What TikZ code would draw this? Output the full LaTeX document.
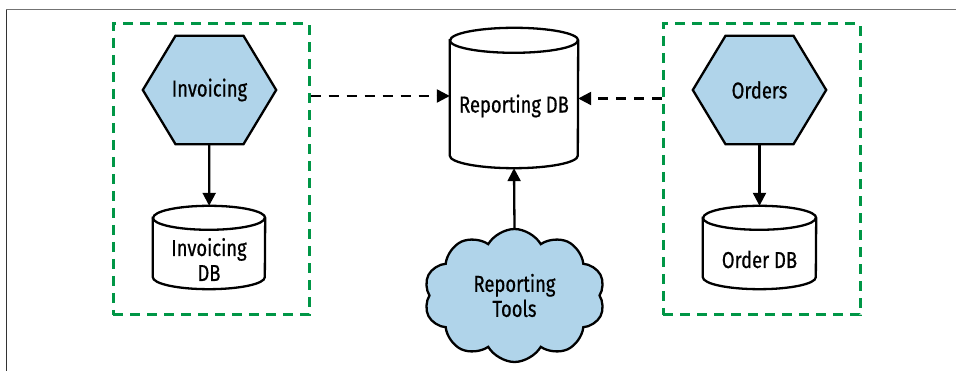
\documentclass[tikz,border=0pt]{standalone}
\usepackage{fontspec}
\setmainfont{Fira Sans}[FakeStretch=0.8, FakeBold=0.6]
\usetikzlibrary{shapes.symbols,arrows.meta,calc,backgrounds}
\definecolor{hexblue}{RGB}{176,212,234}
\definecolor{boxgreen}{RGB}{0,150,70}
\newcommand\hexpath[1]{\draw[line width=2.3pt, fill=hexblue, line join=miter]
  (#1.west) -- ($(#1.north)+(-34,0)$) -- ($(#1.north)+(34,0)$) -- (#1.east)
  -- ($(#1.south)+(34,0)$) -- ($(#1.south)+(-34,0)$) -- cycle;}
\newcommand\cylpath[3]{%
  \draw[line width=2.3pt, fill=white]
    ($(#1.north west)+(0,-#3)$) -- ($(#1.south west)+(0,#3)$)
    arc[start angle=180, end angle=360, x radius=#2, y radius=#3]
    -- ($(#1.north east)+(0,-#3)$)
    arc[start angle=0, end angle=180, x radius=#2, y radius=#3] -- cycle;
  \draw[line width=2.3pt] ($(#1.north west)+(0,-#3)$)
    arc[start angle=180, end angle=360, x radius=#2, y radius=#3];}
\begin{document}
\begin{tikzpicture}[x=1pt,y=1pt,
  lbl/.style={font=\fontsize{23}{25}\selectfont, align=center, inner sep=0},
  grp/.style={draw=boxgreen, line width=3pt, dash pattern=on 10pt off 7pt,
    minimum height=291pt, inner sep=0},
  hexa/.style={minimum width=133pt, minimum height=108pt, inner sep=0, lbl},
  cylbox/.style={inner sep=0, minimum height=83pt},
  conn/.style={line width=2.3pt, -{Triangle[length=13pt,width=13pt]}},
  dconn/.style={conn, dash pattern=on 10pt off 8pt},
]
\useasboundingbox (0,0) rectangle (956,371);
\draw[line width=1.3pt, black!55] (6,361.3) -- (956,361.3);
\draw[line width=1.6pt, black!80] (6.3,361.3) -- (6.3,0);

% groups
\node[grp, minimum width=196pt] (lbox) at (211,201.5) {};
\node[grp, minimum width=197pt] (rbox) at (761.5,201.5) {};

% services
\node[hexa] (ihex) at (209.5,281) {Invoicing};
\node[hexa] (ohex) at (759.5,281) {Orders};

% databases
\node[cylbox, minimum width=112pt] (idb) at (209,123.5) {};
\node[lbl] (idbt) at ($(idb.center)+(0,-12)$) {Invoicing\\DB};
\node[cylbox, minimum width=113pt] (odb) at (759.5,123.5) {};
\node[lbl] (odbt) at ($(odb.center)+(0,-12)$) {Order DB};
\node[inner sep=0, minimum width=128pt, minimum height=140pt] (rdb) at (514,273) {};
\node[lbl] (rdbt) at ($(rdb.center)+(0,-8)$) {Reporting DB};

% cloud
\node[cloud, draw, line width=2.3pt, fill=hexblue, cloud puffs=10, cloud puff arc=120,
  aspect=1.36, inner sep=0, minimum width=181pt, minimum height=133pt, lbl]
  (tools) at (514.5,75.5) {Reporting\\Tools};

\begin{scope}[on background layer]
  \hexpath{ihex}
  \hexpath{ohex}
  \cylpath{idb}{56}{12}
  \cylpath{odb}{56.5}{12}
  \cylpath{rdb}{64}{12.5}
\end{scope}

% connectors
\draw[conn] (ihex) -- (idb);
\draw[conn] (ohex) -- (odb);
\draw[conn] (tools.north) -- (rdb.south);
\draw[dconn] (lbox.east |- 0,275) -- (rdb.west |- 0,275);
\draw[dconn] (rbox.west |- 0,272.5) -- (rdb.east |- 0,272.5);
\end{tikzpicture}
\end{document}
